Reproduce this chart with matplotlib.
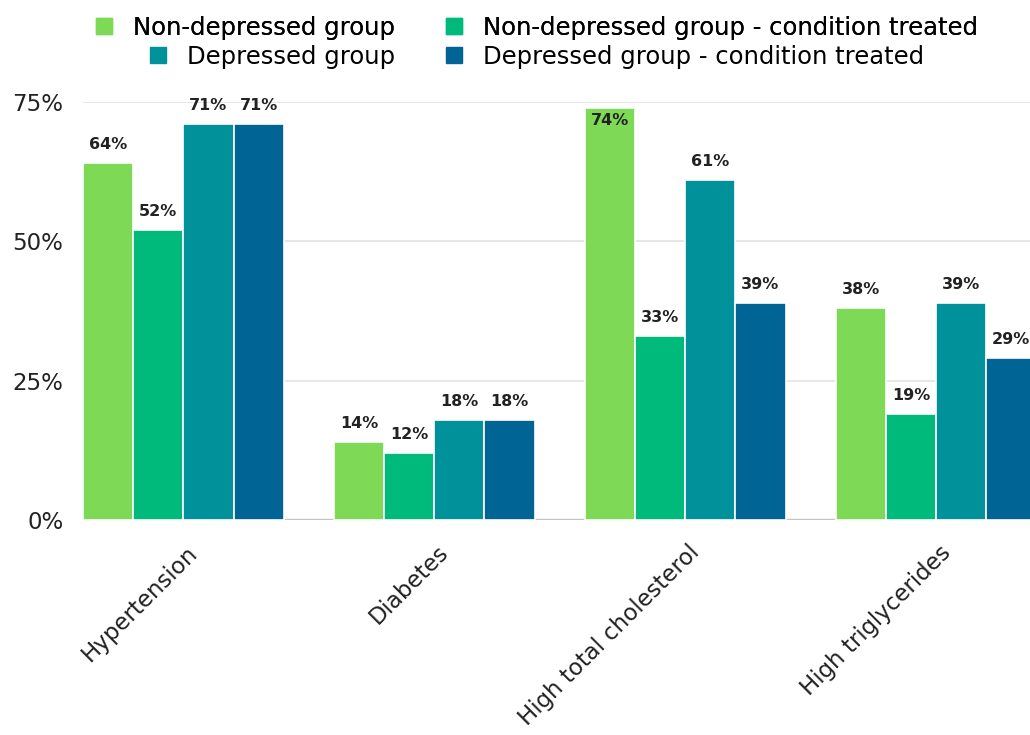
import matplotlib.pyplot as plt
import numpy as np
from matplotlib.lines import Line2D
from matplotlib.transforms import ScaledTranslation

plt.rcParams["font.family"] = ["DejaVu Sans"]

conditions = ["Hypertension", "Diabetes", "High total cholesterol", "High triglycerides"]
series_names = [
    "Non-depressed group",
    "Non-depressed group - condition treated",
    "Depressed group",
    "Depressed group - condition treated",
]
non_depressed = [64, 14, 74, 38]
non_depressed_treated = [52, 12, 33, 19]
depressed = [71, 18, 61, 39]
depressed_treated = [71, 18, 39, 29]
series_values = [non_depressed, non_depressed_treated, depressed, depressed_treated]
colors = ["#7ED957", "#00BA7C", "#00919A", "#006494"]

fig = plt.figure(figsize=(10.3, 7.35), dpi=100)
ax = fig.add_axes([83 / 1030, 215 / 735, 1 - 83 / 1030, 418 / 735])

x = np.arange(len(conditions))
width = 0.2
for k, (vals, col) in enumerate(zip(series_values, colors)):
    pos = x + (k - 1.5) * width
    ax.bar(pos, vals, width, color=col, edgecolor="white", linewidth=1.2, zorder=3)
    for px, v in zip(pos, vals):
        if v > 72:
            # no room above the top gridline, so the label goes inside
            ax.annotate(f"{v}%", (px, v), xytext=(0, -4), textcoords="offset points",
                        ha="center", va="top", fontsize=11.5, fontweight="bold",
                        color="#222222", zorder=4)
        else:
            ax.annotate(f"{v}%", (px, v), xytext=(0, 8), textcoords="offset points",
                        ha="center", va="bottom", fontsize=11.5, fontweight="bold",
                        color="#222222", zorder=4)

ax.set_xlim(-0.4, (1030 - 183) / 251)
ax.set_ylim(0, 75)
ax.set_yticks([0, 25, 50, 75])
ax.set_yticklabels(["0%", "25%", "50%", "75%"], fontsize=16.5, color="#222222")
ax.yaxis.grid(True, color="#e3e3e3", linewidth=1.2, zorder=0)
ax.axhline(0, color="#c4c4c4", linewidth=2.5, zorder=2)
ax.tick_params(axis="both", length=0, pad=14)
for s in ax.spines.values():
    s.set_visible(False)

ax.set_xticks(x)
ax.set_xticklabels(conditions, rotation=45, ha="right", va="top",
                   rotation_mode="anchor", fontsize=16.5, color="#222222")
for lbl in ax.get_xticklabels():
    lbl.set_transform(lbl.get_transform() + ScaledTranslation(2 / 72, -1 / 72, fig.dpi_scale_trans))

handles = [Line2D([], [], linestyle="none", marker="s", markersize=12,
                  markerfacecolor=c, markeredgecolor=c) for c in colors]
row1 = fig.legend([handles[0], handles[1]], [series_names[0], series_names[1]],
                  loc="center", bbox_to_anchor=(536 / 1030, 1 - 28 / 735), ncol=2,
                  frameon=False, fontsize=17.5, handlelength=0.8, handletextpad=0.8,
                  columnspacing=2.0)
fig.add_artist(row1)
fig.legend([handles[2], handles[3]], [series_names[2], series_names[3]],
           loc="center", bbox_to_anchor=(536 / 1030, 1 - 57 / 735), ncol=2,
           frameon=False, fontsize=17.5, handlelength=0.8, handletextpad=0.8,
           columnspacing=2.0)

fig.savefig("out.png", dpi=100)
